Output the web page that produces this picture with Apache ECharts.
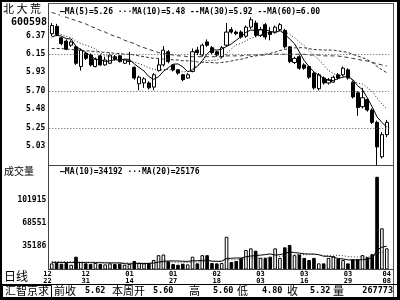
<!DOCTYPE html>
<html><head><meta charset="utf-8">
<script src="https://cdn.jsdelivr.net/npm/echarts@6/dist/echarts.min.js"></script>
<style>html,body{margin:0;padding:0;background:#fff}#c{width:400px;height:300px}</style>
</head><body><div id="c"></div>
<script>
const dates = ['12/22','12/23','12/24','12/27','12/28','12/29','12/30','12/31','01/04','01/05','01/06','01/07','01/10','01/11','01/12','01/13','01/14','01/17','01/18','01/19','01/20','01/21','01/24','01/25','01/26','01/27','01/28','01/31','02/01','02/02','02/03','02/04','02/16','02/17','02/18','02/21','02/22','02/23','02/24','02/25','02/28','03/01','03/02','03/03','03/04','03/07','03/08','03/09','03/10','03/11','03/14','03/15','03/16','03/17','03/18','03/21','03/22','03/23','03/24','03/25','03/28','03/29','03/30','03/31','04/01','04/04','04/05','04/06','04/07','04/08'];
const opens  = [6.40,6.49,6.35,6.31,6.26,6.24,6.00,6.16,6.14,6.00, 6.13,6.02,6.04,6.12,6.13,6.04,6.06,5.99,5.79,5.80, 5.80,5.75,5.95,6.02,6.18,6.02,5.96,5.90,5.86,5.94, 6.20,6.14,6.30,6.23,6.18,6.12,6.26,6.45,6.42,6.42, 6.37,6.48,6.53,6.38,6.51,6.42,6.42,6.45,6.44,6.24, 6.05,6.12,6.02,6.00,5.92,5.73,5.86,5.80,5.81,5.90, 5.90,5.96,5.81,5.68,5.51,5.60,5.47,5.32,4.90,5.17];
const closes = [6.50,6.39,6.28,6.21,6.30,6.04,6.20,6.10,6.02,6.09, 6.02,6.08,6.14,6.09,6.06,6.08,6.07,5.86,5.87,5.85, 5.74,5.90,6.02,6.20,6.06,5.96,5.92,5.84,5.90,6.18, 6.17,6.26,6.26,6.17,6.14,6.23,6.42,6.42,6.40,6.36, 6.48,6.57,6.38,6.45,6.36,6.39,6.48,6.51,6.24,6.06, 6.10,5.98,5.98,5.87,5.74,5.90,5.80,5.84,5.87,5.86, 5.98,5.86,5.63,5.50,5.62,5.47,5.32,5.02,5.17,5.32];
const lows   = [6.37,6.37,6.26,6.20,6.24,6.02,5.95,6.08,6.00,5.99, 6.01,6.01,6.03,6.07,6.05,6.03,6.02,5.84,5.71,5.74, 5.72,5.71,5.94,6.00,6.04,5.94,5.90,5.82,5.85,5.93, 6.14,6.12,6.24,6.15,6.12,6.10,6.24,6.40,6.38,6.34, 6.35,6.46,6.36,6.36,6.33,6.32,6.40,6.43,6.22,6.04, 6.03,5.96,5.96,5.85,5.72,5.71,5.78,5.78,5.80,5.84, 5.88,5.84,5.61,5.40,5.49,5.45,5.30,4.80,4.88,5.14];
const highs  = [6.53,6.52,6.36,6.33,6.32,6.26,6.22,6.18,6.16,6.11, 6.15,6.12,6.16,6.14,6.14,6.09,6.18,6.00,5.89,5.87, 5.82,5.92,6.10,6.25,6.20,6.03,5.97,5.91,5.92,6.22, 6.24,6.28,6.33,6.25,6.19,6.25,6.53,6.48,6.44,6.44, 6.50,6.60,6.56,6.48,6.53,6.48,6.50,6.53,6.46,6.25, 6.12,6.14,6.04,6.01,5.93,5.92,5.88,5.86,5.89,5.92, 6.00,5.98,5.83,5.70,5.74,5.60,5.49,5.34,5.20,5.35];
const volumes = [9000,10000,8500,9500,7000,18800,11000,9000,8000,9500, 8000,7500,9000,8000,8500,7000,8000,12500,10000,9000, 9500,14000,21000,22000,12000,8000,7000,8500,7500,18800, 9000,21000,21000,9500,9000,9500,48000,11000,12500,16800, 28600,31000,27600,17000,17000,18800,31000,17000,32500,36000, 21000,22000,17000,14000,17000,9000,9000,17000,19600,16000, 14000,9000,15000,15000,21100,18000,22400,136000,60400,31000];
const ma5  = [6.36,6.38,6.37,6.34,6.336,6.244,6.206,6.17,6.132,6.09, 6.086,6.062,6.07,6.084,6.078,6.09,6.088,6.032,5.988,5.946, 5.878,5.844,5.876,5.942,5.984,6.028,6.032,5.996,5.936,5.96, 6.002,6.07,6.154,6.208,6.2,6.212,6.244,6.276,6.322,6.366, 6.416,6.446,6.438,6.448,6.448,6.43,6.412,6.438,6.396,6.336, 6.278,6.178,6.072,5.998,5.934,5.894,5.858,5.83,5.83,5.854, 5.87,5.882,5.84,5.766,5.718,5.616,5.508,5.386,5.32,5.26];
const ma10 = [6.40,6.40,6.39,6.37,6.35,6.31,6.28,6.26,6.24,6.213, 6.165,6.134,6.12,6.108,6.084,6.088,6.075,6.051,6.036,6.012, 5.984,5.966,5.954,5.965,5.965,5.953,5.938,5.936,5.939,5.972, 6.015,6.051,6.075,6.072,6.08,6.107,6.157,6.215,6.265,6.283, 6.314,6.345,6.357,6.385,6.407,6.423,6.429,6.438,6.422,6.392, 6.354,6.295,6.255,6.197,6.135,6.086,6.018,5.951,5.914,5.894, 5.882,5.87,5.835,5.798,5.786,5.743,5.695,5.613,5.543,5.489];
const ma30 = [6.22,6.22,6.22,6.21,6.21,6.20,6.20,6.19,6.19,6.18, 6.18,6.17,6.17,6.16,6.16,6.15,6.15,6.14,6.13,6.12, 6.11,6.10,6.10,6.09,6.09,6.08,6.08,6.07,6.07,6.066, 6.055,6.05,6.05,6.048,6.043,6.049,6.057,6.067,6.08,6.089, 6.104,6.121,6.129,6.141,6.151,6.161,6.175,6.196,6.209,6.216, 6.228,6.23,6.229,6.218,6.207,6.205,6.201,6.201,6.2,6.19, 6.183,6.17,6.149,6.127,6.109,6.084,6.047,6.001,5.96,5.925];
const ma60 = [6.66,6.64,6.62,6.60,6.58,6.56,6.54,6.52,6.49,6.47, 6.44,6.42,6.39,6.37,6.35,6.32,6.30,6.28,6.25,6.23, 6.21,6.19,6.17,6.16,6.15,6.14,6.13,6.13,6.12,6.12, 6.12,6.12,6.12,6.12,6.12,6.12,6.13,6.13,6.13,6.13, 6.14,6.14,6.14,6.14,6.14,6.15,6.15,6.15,6.15,6.15, 6.15,6.15,6.15,6.14,6.14,6.14,6.13,6.13,6.13,6.128, 6.119,6.11,6.099,6.088,6.076,6.067,6.052,6.034,6.02,6.007];
const vma10 = [10500,10400,10300,10200,10100,10300,10200,10100,10000,10030, 9930,9680,9730,9580,9730,8550,8250,8600,8800,8750, 8900,9550,10750,12150,12500,12600,12500,12100,11850,12830, 12780,13480,13480,12230,11930,12080,16180,16430,16930,16730, 18690,19690,20350,21100,21900,22830,21130,21730,23730,25650, 24890,23990,22930,22630,22630,21650,19450,19450,18160,16160, 15460,14160,13960,14060,14470,15370,16710,28610,32690,34190];
const vma20 = [11800,11700,11600,11500,11400,11300,11200,11000,10900,10800, 10600,10500,10300,10100,10000,9800,9600,9500,9400,9390, 9415,9615,10240,10865,11115,10575,10375,10350,10325,10790, 10840,11515,12115,12190,12215,12340,14340,14265,14390,14780, 15735,16585,16915,16665,16915,17455,18655,19080,20330,21190, 21790,21840,21640,21865,22265,22240,20290,20590,20945,20905, 20175,19075,18445,18345,18550,18510,18080,24030,25425,25175];
const priceTicks = [5.03,5.25,5.48,5.70,5.93,6.15,6.37];
const priceGridValues = [6.15,5.70,5.25];
const volTicks = [35186,68551,101915];
const dateLabelIdx = [0,7,16,25,34,43,52,61,69];
const priceLegend = '—MA(5)=5.26 ···MA(10)=5.48 --MA(30)=5.92 --MA(60)=6.00';
const volLegend = '—MA(10)=34192 ···MA(20)=25176';
const stockName = '北 大 荒';
const stockCode = '600598';
const infoItems = [['前收','5.62'],['本周开','5.60'],['高','5.60'],['低','4.80'],['收','5.32'],['量','267773']];

const MONO = '"DejaVu Sans Mono", "Liberation Mono", monospace';
const CJK = '"Noto Sans CJK SC", sans-serif';
const chart = echarts.init(document.getElementById('c'), null, {renderer:'canvas'});

function txt(x, y, s, font, align) {
  return {type:'text', z:100, style:{x:x, y:y, text:s, font:font, fill:'#000',
    textAlign:align||'left', align:align||'left', textVerticalAlign:'middle', verticalAlign:'middle'}};
}
function ln(x1, y1, x2, y2, c, w) {
  return {type:'line', z:100, shape:{x1:x1,y1:y1,x2:x2,y2:y2}, style:{stroke:c||'#000', lineWidth:w||1}};
}
function box(x, y, w, h) {
  return {type:'rect', z:100, shape:{x:x,y:y,width:w,height:h}, style:{fill:'#000'}};
}
const upDown = p => closes[p.dataIndex] >= opens[p.dataIndex] ? '#fff' : '#000';

const infoX = [[54,85],[112,153],[189,213],[237,262],[287,310],[333,393]];
const graphics = [
  box(0,0,400,2), box(0,0,2,300), box(397,0,3,300), box(0,297,400,3),
  ln(48,3.5,394,3.5,'#555'), ln(393.5,3,393.5,297,'#555'),
  ln(48.5,3,48.5,270,'#444'), ln(48,165.5,393,165.5,'#444'), ln(48,269.5,393,269.5,'#444'),
  ln(2,284.5,397,284.5,'#000'),
  {type:'rect', z:100, shape:{x:2.5,y:285.5,width:49,height:12}, style:{fill:'none',stroke:'#000',lineWidth:1}},
  txt(3,9,stockName,'11px '+CJK),
  txt(29,22,stockCode,'bold 10px '+MONO,'center'),
  {type:'text', z:100, style:{x:60, y:12, text:priceLegend, font:'bold 8px '+MONO, fill:'#000',
    backgroundColor:'#fff', textVerticalAlign:'middle', verticalAlign:'middle'}},
  txt(4,171,'成交量','10px '+CJK),
  txt(60,172,volLegend,'bold 8px '+MONO),
  txt(4,276,'日线','12px '+CJK),
  txt(5,291,'汇智京求','11px '+CJK)
];
infoItems.forEach((it, k) => {
  graphics.push(txt(infoX[k][0], 291, it[0], '11px '+CJK));
  if (k === infoItems.length - 1) graphics.push(txt(infoX[k][1], 291, it[1], 'bold 8.5px '+MONO, 'right'));
  else graphics.push(txt(infoX[k][1], 291, it[1], 'bold 8.5px '+MONO));
});

const option = {
  animation:false,
  backgroundColor:'#fff',
  grid:[{left:49.3, right:10.8, top:5, height:160},{left:49.3, right:10.8, top:166, height:103.5}],
  xAxis:[
    {type:'category', gridIndex:0, data:dates, boundaryGap:true, axisLine:{show:false}, axisTick:{show:false}, axisLabel:{show:false}, splitLine:{show:false}},
    {type:'category', gridIndex:1, data:dates, boundaryGap:true, axisLine:{show:false}, axisTick:{show:false}, splitLine:{show:false},
      axisLabel:{show:true, interval:(i)=>dateLabelIdx.indexOf(i)>=0, formatter:v=>v.replace('/','\n'),
        fontFamily:MONO, fontWeight:'bold', fontSize:7, lineHeight:7, color:'#000', margin:1, alignMinLabel:'right', hideOverlap:false}}
  ],
  yAxis:[
    {type:'value', gridIndex:0, min:4.80, max:6.75, axisLine:{show:false}, axisTick:{show:false}, splitLine:{show:false},
      axisLabel:{customValues:priceTicks, formatter:v=>Number(v).toFixed(2), fontFamily:MONO, fontWeight:'bold', fontSize:8, color:'#000', margin:4}},
    {type:'value', gridIndex:1, min:0, max:151760, axisLine:{show:false}, axisTick:{show:false}, splitLine:{show:false},
      axisLabel:{customValues:volTicks, formatter:v=>String(Math.round(v)), fontFamily:MONO, fontWeight:'bold', fontSize:8, color:'#000', margin:3}}
  ],
  series:[
    {type:'candlestick', xAxisIndex:0, yAxisIndex:0, barWidth:3.6,
      data:dates.map((d,i)=>[opens[i],closes[i],lows[i],highs[i]]),
      itemStyle:{color:'#fff', color0:'#000', borderColor:'#000', borderColor0:'#000', borderWidth:1},
      markLine:{symbol:'none', silent:true, label:{show:false}, lineStyle:{color:'#555', type:[1,2], width:1},
        data:priceGridValues.map(v=>({yAxis:v}))}},
    {type:'line', xAxisIndex:0, yAxisIndex:0, data:ma5, symbol:'none', lineStyle:{color:'#000', width:1}, z:3},
    {type:'line', xAxisIndex:0, yAxisIndex:0, data:ma10, symbol:'none', lineStyle:{color:'#222', width:1, type:[1,2]}, z:3},
    {type:'line', xAxisIndex:0, yAxisIndex:0, data:ma30, symbol:'none', lineStyle:{color:'#333', width:1, type:[3,2]}, z:3},
    {type:'line', xAxisIndex:0, yAxisIndex:0, data:ma60, symbol:'none', lineStyle:{color:'#333', width:1, type:[4,3]}, z:3},
    {type:'bar', xAxisIndex:1, yAxisIndex:1, data:volumes, barWidth:3.6,
      itemStyle:{color:upDown, borderColor:'#000', borderWidth:1}},
    {type:'line', xAxisIndex:1, yAxisIndex:1, data:vma10, symbol:'none', lineStyle:{color:'#000', width:1}, z:3},
    {type:'line', xAxisIndex:1, yAxisIndex:1, data:vma20, symbol:'none', lineStyle:{color:'#333', width:1, type:[1,2]}, z:3}
  ],
  graphic:graphics
};
chart.setOption(option);
</script>
</body></html>
